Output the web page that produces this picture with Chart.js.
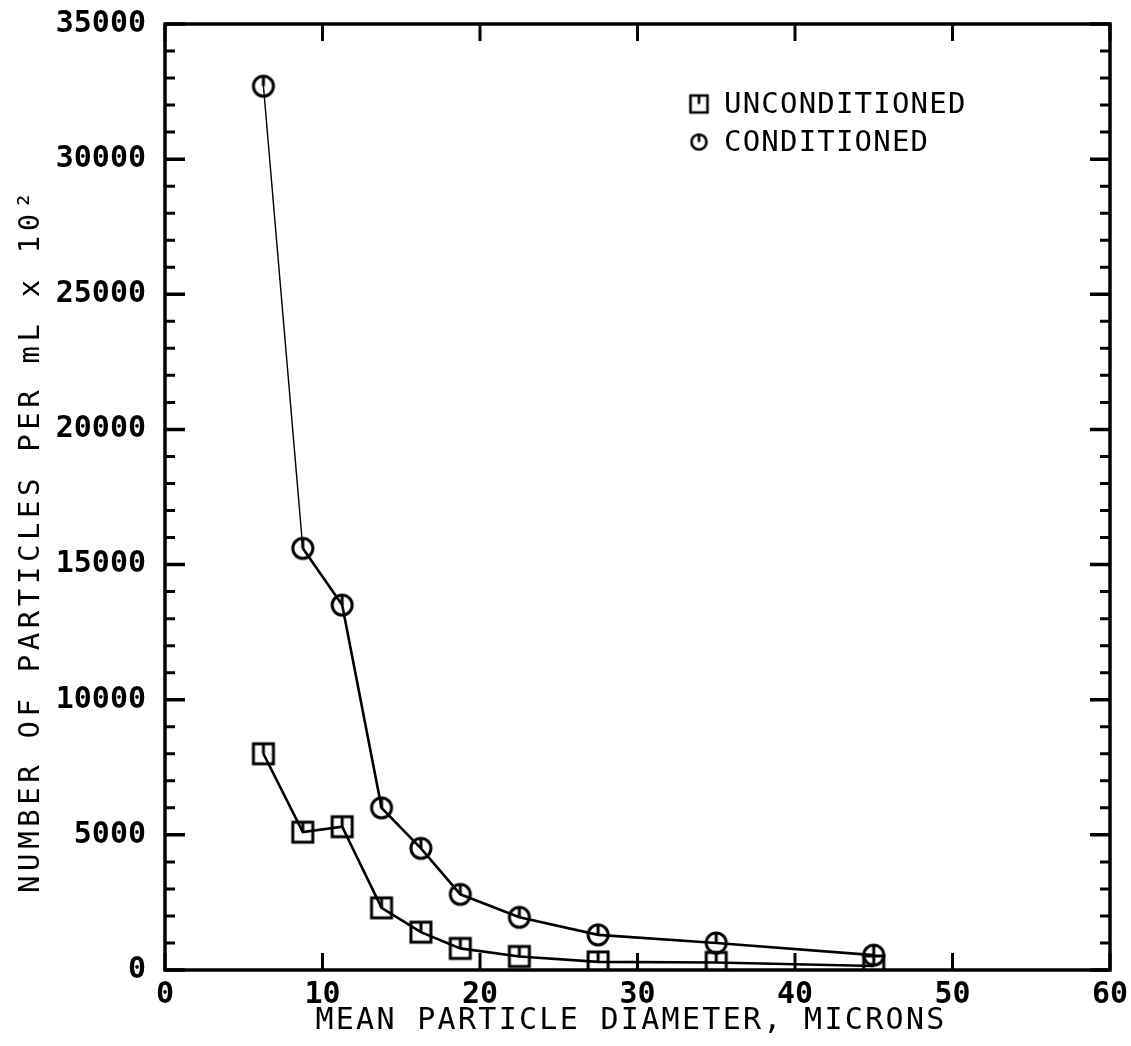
<!DOCTYPE html>
<html>
<head>
<meta charset="utf-8">
<style>
  html, body { margin: 0; padding: 0; background: #fff; }
  #wrap { width: 1131px; height: 1046px; }
</style>
<script src="https://cdn.jsdelivr.net/npm/chart.js@4.4.1/dist/chart.umd.min.js"></script>
</head>
<body>
<div id="wrap"><canvas id="c" width="1131" height="1046"></canvas></div>
<script>
// Mean particle diameter (microns) for each size bin
const diameters = [6.25, 8.75, 11.25, 13.75, 16.25, 18.75, 22.5, 27.5, 35, 45];
// Particles per mL (x 10^2)
const unconditioned = [8000, 5100, 5300, 2300, 1400, 800, 500, 300, 280, 150];
const conditioned = [32700, 15600, 13500, 6000, 4500, 2800, 1950, 1300, 1000, 550];
const seriesNames = ['UNCONDITIONED', 'CONDITIONED'];
const xTicks = [0, 10, 20, 30, 40, 50, 60];
const yTicks = [0, 5000, 10000, 15000, 20000, 25000, 30000, 35000];
const xTitle = 'MEAN PARTICLE DIAMETER, MICRONS';
const yTitle = 'NUMBER OF PARTICLES PER mL x 10\u00B2';

const FONT = '"DejaVu Sans Mono", "Liberation Mono", monospace';

// Hollow plotter-style markers with a short vertical stroke from the top to the centre
function makeMarker(kind, size, lw) {
  const pad = 3;
  const cv = document.createElement('canvas');
  cv.width = size + pad * 2;
  cv.height = size + pad * 2;
  const g = cv.getContext('2d');
  g.strokeStyle = '#000';
  g.lineWidth = lw;
  const c = cv.width / 2;
  const h = size / 2;
  g.beginPath();
  if (kind === 'square') {
    g.rect(c - h, c - h, size, size);
  } else {
    g.ellipse(c, c, h, h, 0, 0, Math.PI * 2);
  }
  g.stroke();
  g.beginPath();
  g.moveTo(c, c - h);
  g.lineTo(c, c);
  g.stroke();
  return cv;
}

const squareMark = makeMarker('square', 20, 3);
const circleMark = makeMarker('circle', 20, 3);
const squareLegend = makeMarker('square', 17, 2.6);
const circleLegend = makeMarker('circle', 15, 2.6);

const toPoints = (ys) => diameters.map((d, i) => ({ x: d, y: ys[i] }));

// Keep tick-label overhang from moving the plot frame
function noOverhang(s) {
  s.paddingTop = 0; s.paddingBottom = 0;
  s.paddingLeft = 0; s.paddingRight = 0;
}

// Frame, inward ticks, titles and in-plot key
const framePlugin = {
  id: 'frame',
  afterDraw(chart) {
    const { ctx, chartArea: a, scales } = chart;
    const xs = scales.x, ys = scales.y;
    ctx.save();
    ctx.strokeStyle = '#000';
    ctx.lineCap = 'butt';
    ctx.lineWidth = 3.5;
    ctx.strokeRect(a.left, a.top, a.right - a.left, a.bottom - a.top);

    // y ticks on left and right edges: major every 5000, minor every 1000
    for (let v = 0; v <= 35000; v += 1000) {
      const py = ys.getPixelForValue(v);
      const major = v % 5000 === 0;
      const len = major ? 20 : 10;
      ctx.lineWidth = major ? 3.5 : 3;
      ctx.beginPath();
      ctx.moveTo(a.left, py); ctx.lineTo(a.left + len, py);
      ctx.moveTo(a.right, py); ctx.lineTo(a.right - len, py);
      ctx.stroke();
    }
    // x ticks on bottom and top edges
    ctx.lineWidth = 3;
    xTicks.forEach(v => {
      const px = xs.getPixelForValue(v);
      ctx.beginPath();
      ctx.moveTo(px, a.bottom); ctx.lineTo(px, a.bottom - 17);
      ctx.moveTo(px, a.top); ctx.lineTo(px, a.top + 17);
      ctx.stroke();
    });

    // axis titles
    ctx.fillStyle = '#000';
    ctx.textAlign = 'center';
    ctx.textBaseline = 'middle';
    ctx.font = '30px ' + FONT;
    ctx.letterSpacing = '2.3px';
    ctx.fillText(xTitle, 631, 1021);
    ctx.save();
    ctx.translate(31, 540);
    ctx.rotate(-Math.PI / 2);
    ctx.font = '29px ' + FONT;
    ctx.letterSpacing = '4.6px';
    ctx.fillText(yTitle, 0, 0);
    ctx.restore();

    // key
    ctx.font = '29px ' + FONT;
    ctx.letterSpacing = '1.2px';
    ctx.textAlign = 'left';
    const keyX = 699, textX = 724;
    const rows = [
      { img: squareLegend, y: 104, label: chart.data.datasets[0].label },
      { img: circleLegend, y: 142, label: chart.data.datasets[1].label }
    ];
    rows.forEach(r => {
      ctx.drawImage(r.img, keyX - r.img.width / 2, r.y - r.img.height / 2);
      ctx.fillText(r.label, textX, r.y + 1);
    });
    ctx.restore();
  }
};

new Chart(document.getElementById('c'), {
  type: 'scatter',
  data: {
    datasets: [
      {
        label: seriesNames[0],
        data: toPoints(unconditioned),
        showLine: true,
        borderColor: '#000',
        borderWidth: 2.6,
        pointStyle: squareMark,
        pointRadius: 10,
        pointHoverRadius: 10
      },
      {
        label: seriesNames[1],
        data: toPoints(conditioned),
        showLine: true,
        borderColor: '#000',
        borderWidth: 2.6,
        segment: {
          borderWidth: (s) => (s.p0DataIndex === 0 ? 1.4 : 2.6)
        },
        pointStyle: circleMark,
        pointRadius: 10,
        pointHoverRadius: 10
      }
    ]
  },
  options: {
    responsive: false,
    animation: false,
    events: [],
    layout: { padding: { left: 0, right: 21, top: 24, bottom: 0 } },
    plugins: { legend: { display: false }, tooltip: { enabled: false } },
    scales: {
      x: {
        type: 'linear',
        min: 0, max: 60,
        afterBuildTicks: (s) => { s.ticks = xTicks.map(v => ({ value: v })); },
        afterFit: (s) => { s.height = 76; noOverhang(s); },
        grid: { display: false, drawTicks: false },
        border: { display: false },
        ticks: { color: '#000', padding: 7, maxRotation: 0, font: { family: FONT, size: 30, weight: 'bold' } }
      },
      y: {
        type: 'linear',
        min: 0, max: 35000,
        afterBuildTicks: (s) => { s.ticks = yTicks.map(v => ({ value: v })); },
        afterFit: (s) => { s.width = 165; noOverhang(s); },
        grid: { display: false, drawTicks: false },
        border: { display: false },
        ticks: { color: '#000', padding: 19, font: { family: FONT, size: 30, weight: 'bold' }, callback: (v) => String(v) }
      }
    }
  },
  plugins: [framePlugin]
});
</script>
</body>
</html>
